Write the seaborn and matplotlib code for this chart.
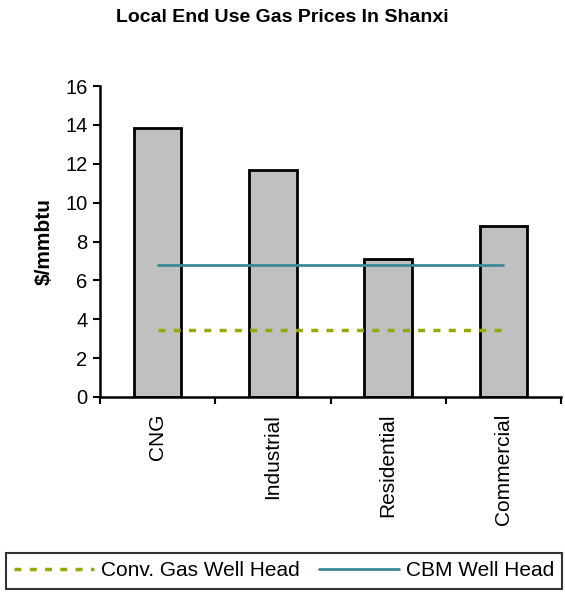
import matplotlib
matplotlib.use("Agg")
import matplotlib.pyplot as plt
import seaborn as sns
import pandas as pd
from matplotlib.ticker import FixedLocator

# End-use prices by sector ($/mmbtu)
sectors = ["CNG", "Industrial", "Residential", "Commercial"]
end_use_price = [13.85, 11.7, 7.1, 8.8]
# Reference well-head prices, flat across sectors
conv_gas_wellhead = [3.45, 3.45, 3.45, 3.45]
cbm_wellhead = [6.8, 6.8, 6.8, 6.8]
y_ticks = [0, 2, 4, 6, 8, 10, 12, 14, 16]

sns.set_theme(style="white")
plt.rcParams["font.family"] = ["Liberation Sans", "DejaVu Sans"]
plt.rcParams.update({"text.color": "black", "axes.labelcolor": "black",
                     "xtick.color": "black", "ytick.color": "black"})

df = pd.DataFrame({"sector": sectors, "price": end_use_price,
                   "conv": conv_gas_wellhead, "cbm": cbm_wellhead})

fig = plt.figure(figsize=(5.65, 5.92), dpi=100)
ax = fig.add_axes([100 / 565, 1 - 397 / 592, 461 / 565, 311 / 592])

sns.barplot(data=df, x="sector", y="price", ax=ax, color="#C0C0C0",
            saturation=1, width=0.41, edgecolor="black", linewidth=2)
sns.lineplot(data=df, x="sector", y="conv", ax=ax, color="#99A800",
             linewidth=2.5, linestyle=(0, (2.0, 2.4)), label="Conv. Gas Well Head")
sns.lineplot(data=df, x="sector", y="cbm", ax=ax, color="#3F8797",
             linewidth=2, label="CBM Well Head")

ax.set_xlim(-0.5, 3.5)
ax.set_ylim(0, 16)
ax.set_yticks(y_ticks)
ax.set_yticklabels([str(t) for t in y_ticks], fontsize=14.5)
ax.set_xticks(range(len(sectors)))
ax.set_xticklabels(sectors, rotation=90, fontsize=15)
ax.xaxis.set_minor_locator(FixedLocator([-0.5, 0.5, 1.5, 2.5, 3.5]))
ax.tick_params(axis="x", which="major", length=0, pad=12)
ax.tick_params(axis="x", which="minor", length=5, width=1.5, direction="out",
               color="black", bottom=True)
ax.tick_params(axis="y", length=5, width=1.5, direction="out", color="black",
               left=True, pad=4)
for side in ["top", "right"]:
    ax.spines[side].set_visible(False)
for side in ["left", "bottom"]:
    ax.spines[side].set_color("black")
    ax.spines[side].set_linewidth(1.8)
ax.set_xlabel("")
ax.set_ylabel("$/mmbtu", fontsize=15, fontweight="bold", labelpad=8)

handles, labels = ax.get_legend_handles_labels()
ax.get_legend().remove()
leg = fig.legend(handles, labels, ncol=2, loc="center",
                 bbox_to_anchor=(284 / 565, 1 - 571 / 592), fontsize=15,
                 handlelength=3.85, handletextpad=0.3, columnspacing=0.95,
                 frameon=True, fancybox=False, borderpad=0.4,
                 borderaxespad=0)
leg.get_frame().set_edgecolor("black")
leg.get_frame().set_linewidth(1.5)

fig.text(282 / 565, 1 - 17 / 592, "Local End Use Gas Prices In Shanxi",
         ha="center", va="center", fontsize=14, fontweight="bold")

fig.savefig("out.png", dpi=100)
